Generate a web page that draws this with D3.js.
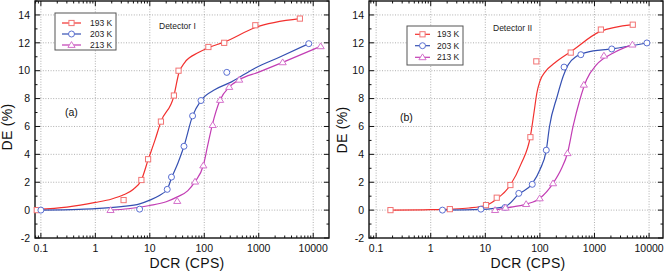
<!DOCTYPE html>
<html>
<head>
<meta charset="utf-8">
<script src="https://cdn.jsdelivr.net/npm/d3@7"></script>
<style>
  body { margin: 0; background: #fff; }
  svg { font-family: "Liberation Sans", Arial, sans-serif; }
  .grid line { stroke: #9a9a9a; stroke-width: 0.8; stroke-dasharray: 1,1.6; }
  .frame { fill: none; stroke: #111; stroke-width: 1.4; }
  .tick-mark { stroke: #111; stroke-width: 1; }
  .tickLabel { font-size: 10.5px; fill: #111; }
  .axisTitle { font-size: 14px; fill: #111; letter-spacing: 0.3px; }
  .legendText { font-size: 8.5px; fill: #222; }
</style>
</head>
<body>
<script>
// ---------------- data ----------------
var tempLabels = ["193 K", "203 K", "213 K"];
var xTicks = [0.1, 1, 10, 100, 1000, 10000];
var xTickLabels = ["0.1", "1", "10", "100", "1000", "10000"];
var yTicks = [-2, 0, 2, 4, 6, 8, 10, 12, 14];

// Detector I : measured points [DCR, DE]
var aPts193 = [[0.084, 0], [3.3, 0.72], [7.0, 2.16], [9.3, 3.65], [16, 6.35], [27.7, 8.22], [33.7, 10.0], [119, 11.7], [232, 12.0], [865, 13.26], [5690, 13.74]];
var aPts203 = [[0.1, 0], [6.5, 0.07], [20.9, 1.49], [25, 2.37], [42.4, 4.58], [61, 6.76], [87, 7.86], [259, 9.88], [8300, 11.94]];
var aPts213 = [[1.9, 0], [31.9, 0.65], [67.6, 2.04], [96, 3.2], [143, 6.1], [195, 7.9], [287, 8.83], [438, 9.35], [2750, 10.6], [13700, 11.75]];
// Detector I : fitted curves
var aFit193 = [[0.084, 0.05], [0.3, 0.22], [1, 0.55], [2, 0.8], [3.3, 1.1], [5, 1.5], [7, 2.16], [9.3, 3.6], [12.4, 5.0], [16, 6.35], [27.7, 8.2], [34, 9.8], [44, 10.6], [78, 11.3], [119, 11.65], [232, 12.05], [865, 13.1], [5690, 13.73]];
var aFit203 = [[0.1, 0], [0.5, 0.05], [1, 0.1], [3, 0.25], [6.5, 0.45], [10, 0.72], [15, 1.05], [20.9, 1.5], [25, 2.3], [33, 3.4], [42.4, 4.58], [61, 6.76], [87, 7.86], [158, 8.65], [317, 9.2], [865, 10.2], [2500, 11.0], [8300, 11.94]];
var aFit213 = [[1.9, 0], [4, 0.1], [10, 0.33], [20, 0.6], [32, 0.95], [50, 1.4], [67.6, 2.04], [96, 3.2], [115, 4.6], [140, 6.1], [195, 7.9], [287, 8.83], [438, 9.35], [1000, 9.9], [2750, 10.6], [13700, 11.75]];

// Detector II : measured points
var bPts193 = [[0.183, 0], [2.24, 0.07], [10.3, 0.36], [16.2, 0.89], [28.8, 1.8], [67, 5.23], [86, 10.67], [367, 11.3], [1310, 12.95], [5030, 13.3]];
var bPts203 = [[1.64, 0], [8.3, 0.07], [23, 0.19], [41, 1.2], [72.5, 1.85], [131, 4.3], [277, 10.26], [562, 11.15], [2070, 11.56], [9120, 11.99]];
var bPts213 = [[15.1, 0], [23.4, 0.17], [56, 0.43], [99, 0.84], [174, 1.92], [320, 4.08], [638, 8.99], [1490, 11.08], [4950, 11.87]];
// Detector II : fitted curves
var bFit193 = [[0.183, 0], [1, 0.03], [2.24, 0.07], [5, 0.15], [10.3, 0.35], [16.2, 0.8], [28.8, 1.8], [45, 3.3], [67, 5.3], [78, 7.0], [88, 8.4], [99, 9.2], [127, 9.95], [186, 10.55], [379, 11.4], [1260, 12.8], [5030, 13.3]];
var bFit203 = [[1.64, 0], [8.3, 0.05], [23, 0.25], [41, 1.15], [72.5, 1.9], [100, 2.9], [131, 4.3], [150, 6.0], [207, 8.15], [267, 9.6], [330, 10.43], [468, 11.03], [716, 11.32], [2070, 11.56], [9120, 11.99]];
var bFit213 = [[15.1, 0], [23.4, 0.15], [56, 0.43], [99, 0.84], [174, 1.92], [250, 3.0], [320, 4.08], [405, 6.0], [538, 7.9], [716, 9.35], [1094, 10.43], [2210, 11.27], [4950, 11.87]];

// ---------------- styles ----------------
var lineColors = ["#f2302e", "#3550b2", "#c23db4"];
var markColors = ["#f27474", "#5a6fd2", "#d572cc"];
var markShapes = ["square", "circle", "triangle"];

var W = 665, H = 273;
var svg = d3.select("body").append("svg").attr("width", W).attr("height", H);

drawPanel({
    left: 35, right: 329, top: 1, bottom: 238,
    xMin: 0.078, xMax: 19500,
    pts: [aPts193, aPts203, aPts213],
    fits: [aFit193, aFit203, aFit213],
    title: "Detector I", titleX: 159, titleY: 29,
    tag: "(a)", tagX: 65, tagY: 116,
    legend: { x: 55, y: 13, w: 61, h: 37, rows: [23, 34, 45], lx1: 62, lx2: 81, tx: 90 },
    xTitleX: 187, yTitleX: 12, yTitleY: 127
});

drawPanel({
    left: 369, right: 663, top: 1, bottom: 238,
    xMin: 0.074, xMax: 18000,
    pts: [bPts193, bPts203, bPts213],
    fits: [bFit193, bFit203, bFit213],
    title: "Detector II", titleX: 493, titleY: 31,
    tag: "(b)", tagX: 400, tagY: 121,
    legend: { x: 407, y: 26, w: 56, h: 39, rows: [34.3, 45.7, 57.3], lx1: 415, lx2: 430, tx: 437 },
    xTitleX: 528, yTitleX: 347, yTitleY: 130
});

function drawPanel(p) {
    var x = d3.scaleLog().domain([p.xMin, p.xMax]).range([p.left, p.right]);
    var y = d3.scaleLinear().domain([-2, 15]).range([p.bottom, p.top]);
    var g = svg.append("g");

    // grid
    var grid = g.append("g").attr("class", "grid");
    grid.selectAll(".gx").data(xTicks).enter().append("line")
        .attr("x1", function (d) { return x(d); }).attr("x2", function (d) { return x(d); })
        .attr("y1", p.top).attr("y2", p.bottom);
    grid.selectAll(".gy").data(yTicks.filter(function (d) { return d > -2; })).enter().append("line")
        .attr("x1", p.left).attr("x2", p.right)
        .attr("y1", function (d) { return y(d); }).attr("y2", function (d) { return y(d); });

    // minor x ticks
    var minorX = [];
    for (var e = -2; e <= 4; e++) {
        for (var m = 1; m <= 9; m++) {
            var v = m * Math.pow(10, e);
            if (v >= p.xMin && v <= p.xMax) minorX.push({ v: v, major: m === 1 });
        }
    }
    var ticks = g.append("g");
    minorX.forEach(function (t) {
        var len = t.major ? 5 : 2.5;
        ticks.append("line").attr("class", "tick-mark")
            .attr("x1", x(t.v)).attr("x2", x(t.v)).attr("y1", p.bottom).attr("y2", p.bottom - len);
        ticks.append("line").attr("class", "tick-mark")
            .attr("x1", x(t.v)).attr("x2", x(t.v)).attr("y1", p.top).attr("y2", p.top + len);
    });
    // y ticks (major + minor at every unit)
    d3.range(-2, 16).forEach(function (v) {
        var len = v % 2 === 0 ? 5 : 2.5;
        ticks.append("line").attr("class", "tick-mark")
            .attr("x1", p.left).attr("x2", p.left + len).attr("y1", y(v)).attr("y2", y(v));
        ticks.append("line").attr("class", "tick-mark")
            .attr("x1", p.right).attr("x2", p.right - len).attr("y1", y(v)).attr("y2", y(v));
    });

    // frame
    g.append("rect").attr("class", "frame")
        .attr("x", p.left).attr("y", p.top)
        .attr("width", p.right - p.left).attr("height", p.bottom - p.top);

    // tick labels
    g.selectAll(".xl").data(xTicks).enter().append("text")
        .attr("class", "tickLabel")
        .attr("x", function (d) { return x(d); })
        .attr("y", 252)
        .attr("text-anchor", "middle")
        .text(function (d, i) { return xTickLabels[i]; });
    g.selectAll(".yl").data(yTicks).enter().append("text")
        .attr("class", "tickLabel")
        .attr("x", p.left - 5)
        .attr("y", function (d) { return y(d) + 3.7; })
        .attr("text-anchor", "end")
        .text(function (d) { return d; });

    // axis titles
    g.append("text").attr("class", "axisTitle")
        .attr("x", p.xTitleX).attr("y", 268)
        .attr("text-anchor", "middle")
        .text("DCR (CPS)");
    g.append("text").attr("class", "axisTitle")
        .attr("transform", "translate(" + p.yTitleX + "," + p.yTitleY + ") rotate(-90)")
        .attr("text-anchor", "middle")
        .text("DE (%)");

    // fitted curves
    var line = d3.line()
        .x(function (d) { return x(d[0]); })
        .y(function (d) { return y(d[1]); })
        .curve(d3.curveMonotoneX);
    p.fits.forEach(function (f, i) {
        g.append("path")
            .attr("d", line(f))
            .attr("fill", "none")
            .attr("stroke", lineColors[i])
            .attr("stroke-width", 1.2);
    });

    // markers
    p.pts.forEach(function (pts, i) {
        pts.forEach(function (d) {
            addMarker(g, markShapes[i], x(d[0]), y(d[1]), markColors[i]);
        });
    });

    // texts
    g.append("text").attr("class", "legendText")
        .attr("x", p.titleX).attr("y", p.titleY).text(p.title);
    g.append("text").style("font-size", "10.5px").attr("fill", "#111")
        .attr("x", p.tagX).attr("y", p.tagY).text(p.tag);

    // legend
    var lg = p.legend;
    g.append("rect")
        .attr("x", lg.x).attr("y", lg.y).attr("width", lg.w).attr("height", lg.h)
        .attr("fill", "#fff").attr("stroke", "#555").attr("stroke-width", 1);
    tempLabels.forEach(function (t, i) {
        var ry = lg.rows[i];
        g.append("line")
            .attr("x1", lg.lx1).attr("x2", lg.lx2).attr("y1", ry).attr("y2", ry)
            .attr("stroke", lineColors[i]).attr("stroke-width", 1.2);
        addMarker(g, markShapes[i], (lg.lx1 + lg.lx2) / 2, ry, markColors[i]);
        g.append("text").attr("class", "legendText")
            .attr("x", lg.tx).attr("y", ry + 3).text(t);
    });
}

function addMarker(g, shape, cx, cy, color) {
    if (shape === "square") {
        g.append("rect")
            .attr("x", cx - 2.6).attr("y", cy - 2.6).attr("width", 5.2).attr("height", 5.2)
            .attr("fill", "#fff").attr("stroke", color).attr("stroke-width", 1);
    } else if (shape === "circle") {
        g.append("circle")
            .attr("cx", cx).attr("cy", cy).attr("r", 3)
            .attr("fill", "#fff").attr("stroke", color).attr("stroke-width", 1);
    } else {
        g.append("path")
            .attr("d", "M" + cx + "," + (cy - 3.4) + "L" + (cx + 3.6) + "," + (cy + 2.4) + "L" + (cx - 3.6) + "," + (cy + 2.4) + "Z")
            .attr("fill", "#fff").attr("stroke", color).attr("stroke-width", 1);
    }
}
</script>
</body>
</html>
